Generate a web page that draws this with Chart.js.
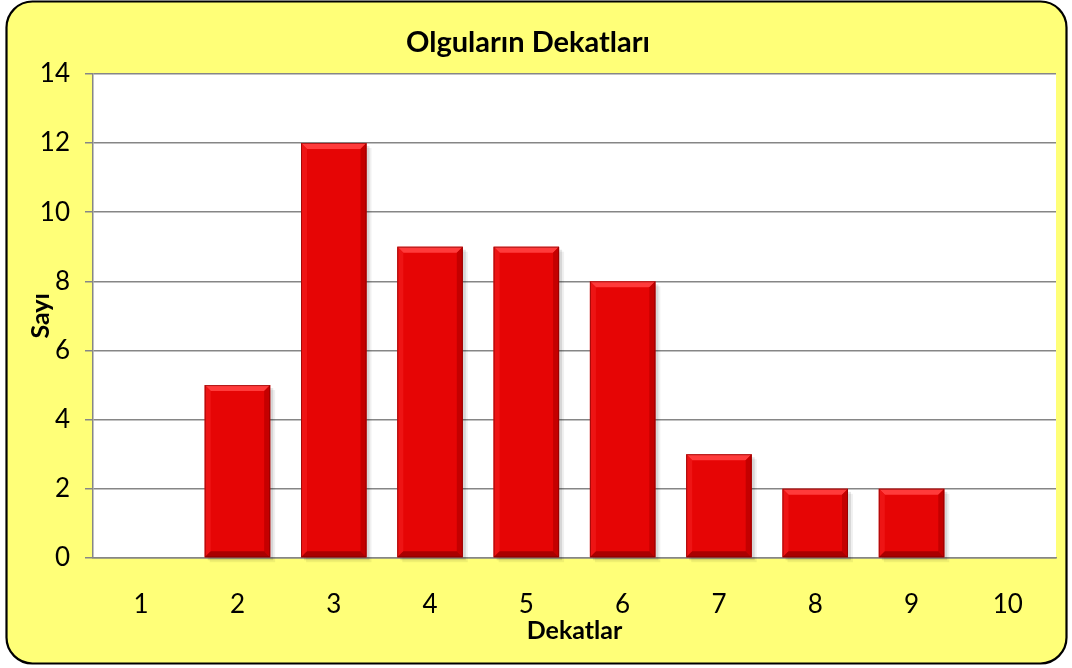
<!DOCTYPE html>
<html><head><meta charset="utf-8">
<script src="https://cdn.jsdelivr.net/npm/chart.js@4.4.1/dist/chart.umd.min.js"></script>
<style>html,body{margin:0;padding:0;background:#fff;}#wrap{width:1072px;height:668px;position:relative;}</style>
</head><body><div id="wrap"><canvas id="c" width="1072" height="668"></canvas></div>
<script>
const categories = ['1','2','3','4','5','6','7','8','9','10'];
const counts = [0,5,12,9,9,8,3,2,2,0];
const chartTitle = 'Olguların Dekatları';
const xTitle = 'Dekatlar';
const yTitle = 'Sayı';

Chart.defaults.font.family = 'Lato';
Chart.defaults.font.size = 20;
Chart.defaults.color = '#000';

const bgPlugin = {
  id: 'bg',
  beforeDraw(chart) {
    const ctx = chart.ctx;
    ctx.save();
    const x = 6.5, y = 1.5, w = 1060, h = 662, r = 26;
    ctx.beginPath();
    ctx.moveTo(x + r, y);
    ctx.arcTo(x + w, y, x + w, y + h, r);
    ctx.arcTo(x + w, y + h, x, y + h, r);
    ctx.arcTo(x, y + h, x, y, r);
    ctx.arcTo(x, y, x + w, y, r);
    ctx.closePath();
    ctx.fillStyle = '#FFFF78';
    ctx.fill();
    ctx.lineWidth = 2.2;
    ctx.strokeStyle = '#000';
    ctx.stroke();
    const a = chart.chartArea;
    ctx.fillStyle = '#fff';
    ctx.fillRect(a.left, a.top, a.right - a.left, a.bottom - a.top);
    ctx.restore();
  }
};

const bevelPlugin = {
  id: 'bevel',
  beforeDatasetsDraw(chart) {
    const ctx = chart.ctx;
    const meta = chart.getDatasetMeta(0);
    ctx.save();
    meta.data.forEach(el => {
      const p = el.getProps(['x','y','base','width'], true);
      const h = p.base - p.y;
      if (h <= 0.5) return;
      const l = p.x - p.width / 2;
      ctx.fillStyle = 'rgba(0,0,0,0.10)';
      ctx.fillRect(l + 3, p.y + 3, p.width, h);
      ctx.fillStyle = 'rgba(0,0,0,0.06)';
      ctx.fillRect(l + 5, p.y + 5, p.width, h);
    });
    ctx.restore();
  },
  afterDatasetsDraw(chart) {
    const ctx = chart.ctx;
    const meta = chart.getDatasetMeta(0);
    ctx.save();
    meta.data.forEach(el => {
      const p = el.getProps(['x','y','base','width'], true);
      const h = p.base - p.y;
      if (h <= 0.5) return;
      const l = p.x - p.width / 2, r = p.x + p.width / 2, t = p.y, b = p.base;
      const d = 6;
      ctx.beginPath();
      ctx.moveTo(l, t); ctx.lineTo(r, t); ctx.lineTo(r - d, t + d); ctx.lineTo(l + d, t + d); ctx.closePath();
      ctx.fillStyle = '#FF3B3B'; ctx.fill();
      ctx.beginPath();
      ctx.moveTo(l, t); ctx.lineTo(l + d, t + d); ctx.lineTo(l + d, b - d); ctx.lineTo(l, b); ctx.closePath();
      ctx.fillStyle = '#EE1414'; ctx.fill();
      ctx.beginPath();
      ctx.moveTo(r, t); ctx.lineTo(r - d, t + d); ctx.lineTo(r - d, b - d); ctx.lineTo(r, b); ctx.closePath();
      ctx.fillStyle = '#C40000'; ctx.fill();
      ctx.beginPath();
      ctx.moveTo(l, b); ctx.lineTo(r, b); ctx.lineTo(r - d, b - d); ctx.lineTo(l + d, b - d); ctx.closePath();
      ctx.fillStyle = '#AA0000'; ctx.fill();
      ctx.strokeStyle = 'rgba(120,0,0,0.6)'; ctx.lineWidth = 1;
      ctx.strokeRect(l + 0.5, t + 0.5, r - l - 1, h - 1);
    });
    ctx.restore();
  }
};

new Chart(document.getElementById('c'), {
  type: 'bar',
  data: {
    labels: categories,
    datasets: [{
      data: counts,
      backgroundColor: '#E60505',
      borderWidth: 0,
      categoryPercentage: 1,
      barPercentage: 0.68
    }]
  },
  options: {
    responsive: false,
    animation: false,
    devicePixelRatio: 1,
    layout: { padding: { left: 0, right: 16, top: 4, bottom: 0 } },
    plugins: {
      legend: { display: false },
      tooltip: { enabled: false },
      title: {
        display: true,
        text: chartTitle,
        color: '#000',
        font: { size: 29, weight: 'bold', lineHeight: 1.2 },
        padding: { top: 21, bottom: 14 }
      }
    },
    scales: {
      x: {
        grid: { display: false },
        border: { display: true, color: '#868686', width: 1.5 },
        ticks: { color: '#000', font: { size: 26 }, padding: 23, maxRotation: 0 },
        title: { display: true, text: xTitle, color: '#000', font: { size: 25, weight: 'bold' }, padding: { top: 0, bottom: 22 } },
        afterFit(s) { s.height = 110; }
      },
      y: {
        min: 0, max: 14,
        ticks: { stepSize: 2, color: '#000', font: { size: 26 }, padding: 15 },
        grid: { color: '#868686', lineWidth: 1.5, tickLength: 8, drawTicks: true },
        border: { display: true, color: '#868686', width: 1.5 },
        title: { display: true, text: yTitle, color: '#000', font: { size: 25, weight: 'bold' }, padding: { top: 26, bottom: 0 } },
        afterFit(s) { s.width = 93; }
      }
    }
  },
  plugins: [bgPlugin, bevelPlugin]
});
</script>
</body></html>
